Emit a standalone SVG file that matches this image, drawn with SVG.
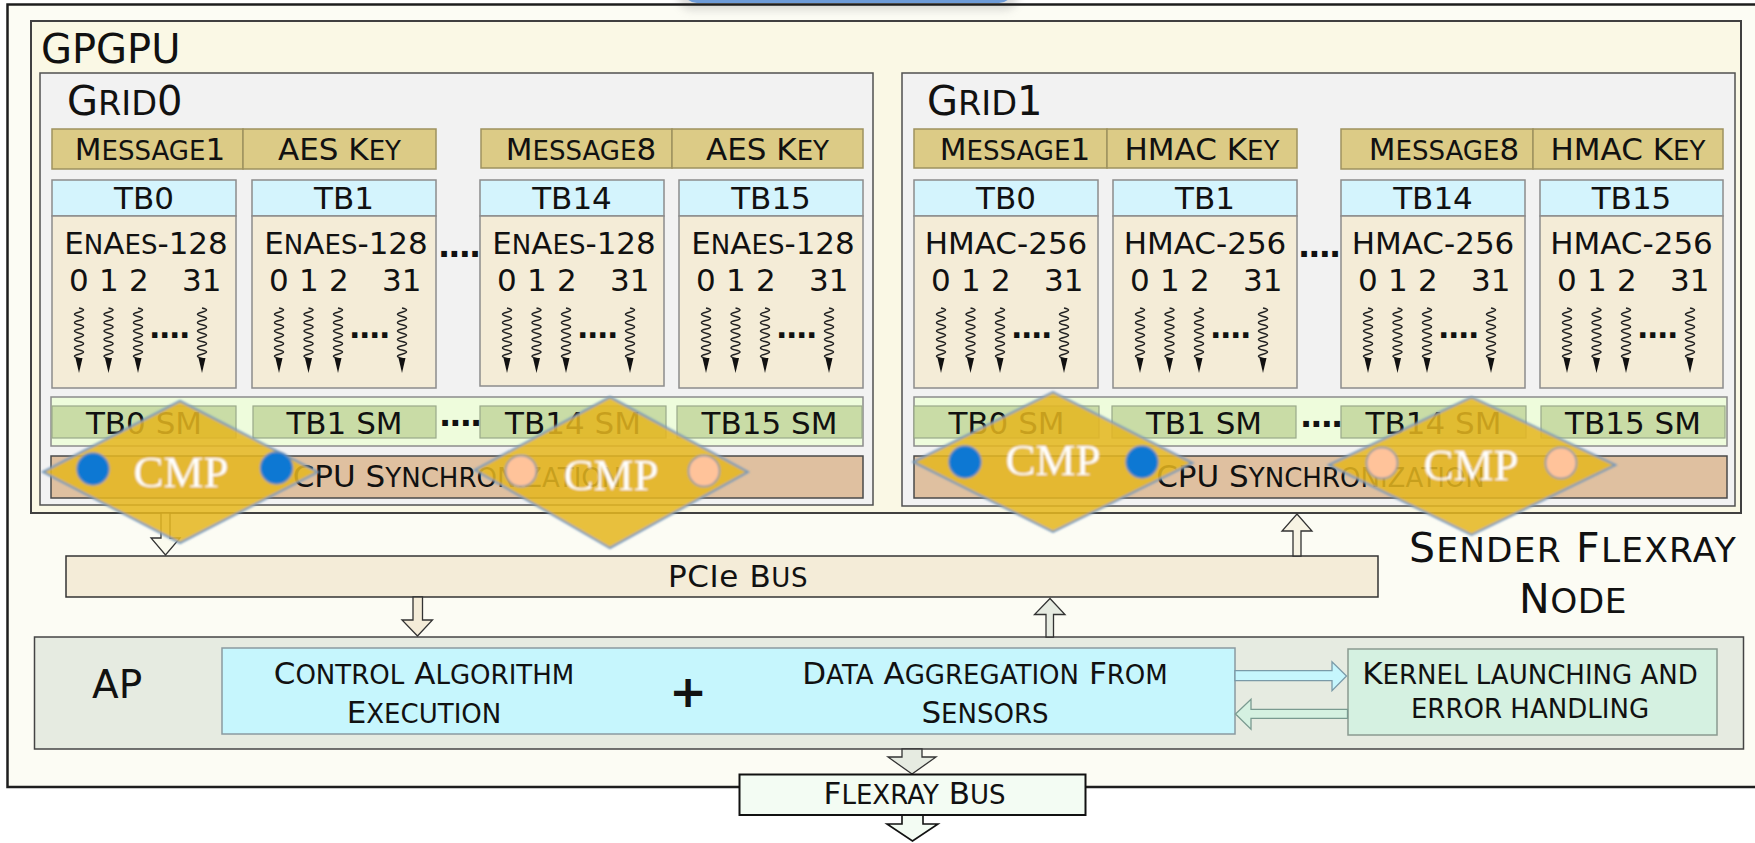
<svg xmlns="http://www.w3.org/2000/svg" xmlns:xlink="http://www.w3.org/1999/xlink" width="1755" height="843" viewBox="0 0 1755 843">
<style>
text{font-family:"DejaVu Sans",Verdana,sans-serif;fill:#111}
.m{text-anchor:middle}
.s{font-size:0.84em}
.f31{font-size:31px}
.f40{font-size:40px}
.ap{font-size:31px}
.msg{fill:#dccb86;stroke:#9e925f;stroke-width:1.5}
.tbh{fill:#d4f4fd;stroke:#8c8c8c;stroke-width:1.5}
.tbb{fill:#f4ecd7;stroke:#8c8c8c;stroke-width:1.5}
.smrow{fill:#eefcdc;stroke:#8c8c8c;stroke-width:1.5}
.sm{fill:#c9dca6;stroke:#9aa88a;stroke-width:1.2}
.sync{fill:#dfc0a0;stroke:#4a4a4a;stroke-width:1.5}
.grid{fill:#f2f2f2;stroke:#505050;stroke-width:1.5}
.cmp{fill:#e5b71c;fill-opacity:0.86;stroke:#7799bb;stroke-width:2}
.cmpt{font-family:"Liberation Serif","Times New Roman",serif;font-size:45px;fill:#fff}
.blue{fill:#0b78d3;stroke:#6d8fb0;stroke-width:1.5}
.peach{fill:#ffc39a;stroke:#7e94aa;stroke-width:1.5}
.dots{font-weight:bold;font-size:30px;letter-spacing:-1.4px}
.dotsb{font-weight:bold;font-size:32px;letter-spacing:-1.8px}
.arr{stroke:#333;stroke-width:1.3}
</style>
<defs>
  <!-- one thread of a thread block: wavy line ending in an arrowhead -->
  <g id="thr">
    <path d="M0,0 q9,2.1 0,4.2 q-9,2.1 0,4.2 q9,2.1 0,4.2 q-9,2.1 0,4.2 q9,2.1 0,4.2 q-9,2.1 0,4.2 q9,2.1 0,4.2 q-9,2.1 0,4.2 q9,2.1 0,4.2 q-9,2.1 0,4.2 q9,2.1 0,4.2 q-9,2.1 0,4.2 l0,2" fill="none" stroke="#222" stroke-width="1.5"/>
    <polygon points="-3.5,50 3.5,50 0,65" fill="#111"/>
  </g>
  <filter id="soft" x="-10%" y="-10%" width="120%" height="120%">
    <feGaussianBlur stdDeviation="0.8"/>
  </filter>
  <filter id="haze" x="-20%" y="-50%" width="140%" height="200%">
    <feGaussianBlur stdDeviation="4"/>
  </filter>
</defs>

<!-- sender node frame -->
<g id="sender-node">
  <rect x="7.5" y="4.5" width="1760" height="782.5" fill="#fcfcf4"/>
  <rect x="678" y="-30" width="340" height="40" rx="14" fill="#9a9a9a" opacity="0.35" filter="url(#haze)"/>
  <rect x="683" y="-30" width="330" height="33" rx="14" fill="#6d9bd8"/>
  <rect x="7.5" y="4.5" width="1760" height="782.5" fill="none" stroke="#1e1e1e" stroke-width="2.5"/>
  <text x="1573" y="562" class="m" style="font-size:41px;letter-spacing:1.2px">S<tspan class="s">ENDER</tspan> F<tspan class="s">LEXRAY</tspan></text>
  <text x="1573" y="613" class="m" style="font-size:41px;letter-spacing:0.5px">N<tspan class="s">ODE</tspan></text>
</g>

<g id="gpgpu">
  <rect x="31" y="21" width="1710" height="492" fill="#faf8e5" stroke="#404040" stroke-width="2"/>
  <text x="41" y="63" class="f40">GPGPU</text>
</g>

<!-- Grid 0 : AES encryption -->
<g id="grid0">
  <rect class="grid" x="40" y="73" width="833" height="432"/>
  <text x="67" y="115" class="f40">G<tspan class="s">RID</tspan>0</text>
</g>
<g id="g0-msg1">
  <rect class="msg" x="52" y="129" width="191" height="40"/>
  <rect class="msg" x="243" y="129" width="193" height="40"/>
  <text class="f31 m" x="150" y="160">M<tspan class="s">ESSAGE</tspan>1</text>
  <text class="f31 m" x="339.5" y="160">AES K<tspan class="s">EY</tspan></text>
</g>
<g id="g0-msg8">
  <rect class="msg" x="481" y="129" width="191" height="39"/>
  <rect class="msg" x="672" y="129" width="191" height="39"/>
  <text class="f31 m" x="581" y="160">M<tspan class="s">ESSAGE</tspan>8</text>
  <text class="f31 m" x="767.5" y="160">AES K<tspan class="s">EY</tspan></text>
</g>
<text class="dotsb" x="438" y="257">....</text>
<g id="g0-tb0">
  <rect class="tbh" x="52" y="180" width="184" height="36"/>
  <rect class="tbb" x="52" y="216" width="184" height="172"/>
  <text class="f31 m" x="144" y="209">TB0</text>
  <text class="f31 m" x="146" y="254">E<tspan class="s">N</tspan>A<tspan class="s">ES</tspan>-128</text>
  <text class="f31" y="291"><tspan x="69">0</tspan> <tspan x="99">1</tspan> <tspan x="129">2</tspan> <tspan x="182">31</tspan></text>
  <use href="#thr" x="79" y="308"/><use href="#thr" x="108.5" y="308"/><use href="#thr" x="138" y="308"/><use href="#thr" x="202" y="308"/>
  <text class="dots" x="149" y="338">....</text>
</g>
<g id="g0-tb1">
  <rect class="tbh" x="252" y="180" width="184" height="36"/>
  <rect class="tbb" x="252" y="216" width="184" height="172"/>
  <text class="f31 m" x="344" y="209">TB1</text>
  <text class="f31 m" x="346" y="254">E<tspan class="s">N</tspan>A<tspan class="s">ES</tspan>-128</text>
  <text class="f31" y="291"><tspan x="269">0</tspan> <tspan x="299">1</tspan> <tspan x="329">2</tspan> <tspan x="382">31</tspan></text>
  <use href="#thr" x="279" y="308"/><use href="#thr" x="308.5" y="308"/><use href="#thr" x="338" y="308"/><use href="#thr" x="402" y="308"/>
  <text class="dots" x="349" y="338">....</text>
</g>
<g id="g0-tb14">
  <rect class="tbh" x="480" y="180" width="184" height="36"/>
  <rect class="tbb" x="480" y="216" width="184" height="170"/>
  <text class="f31 m" x="572" y="209">TB14</text>
  <text class="f31 m" x="574" y="254">E<tspan class="s">N</tspan>A<tspan class="s">ES</tspan>-128</text>
  <text class="f31" y="291"><tspan x="497">0</tspan> <tspan x="527">1</tspan> <tspan x="557">2</tspan> <tspan x="610">31</tspan></text>
  <use href="#thr" x="507" y="308"/><use href="#thr" x="536.5" y="308"/><use href="#thr" x="566" y="308"/><use href="#thr" x="630" y="308"/>
  <text class="dots" x="577" y="338">....</text>
</g>
<g id="g0-tb15">
  <rect class="tbh" x="679" y="180" width="184" height="36"/>
  <rect class="tbb" x="679" y="216" width="184" height="172"/>
  <text class="f31 m" x="771" y="209">TB15</text>
  <text class="f31 m" x="773" y="254">E<tspan class="s">N</tspan>A<tspan class="s">ES</tspan>-128</text>
  <text class="f31" y="291"><tspan x="696">0</tspan> <tspan x="726">1</tspan> <tspan x="756">2</tspan> <tspan x="809">31</tspan></text>
  <use href="#thr" x="706" y="308"/><use href="#thr" x="735.5" y="308"/><use href="#thr" x="765" y="308"/><use href="#thr" x="829" y="308"/>
  <text class="dots" x="776" y="338">....</text>
</g>
<g id="g0-sm">
  <rect class="smrow" x="51" y="397" width="812" height="49"/>
  <rect class="sm" x="52" y="406" width="184" height="32"/>
  <rect class="sm" x="253" y="406" width="183" height="32"/>
  <rect class="sm" x="480" y="406" width="186" height="32"/>
  <rect class="sm" x="677" y="406" width="185" height="32"/>
  <text class="f31 m" x="144" y="434">TB0 SM</text>
  <text class="f31 m" x="344.5" y="434">TB1 SM</text>
  <text class="f31 m" x="573" y="434">TB14 SM</text>
  <text class="f31 m" x="769.5" y="434">TB15 SM</text>
  <text class="dotsb" x="439" y="426">....</text>
</g>
<g id="g0-sync">
  <rect class="sync" x="51" y="456" width="812" height="42"/>
  <text class="f31 m" x="457" y="487">CPU S<tspan class="s">YNCHRONIZATION</tspan></text>
</g>

<!-- Grid 1 : HMAC -->
<g id="grid1">
  <rect class="grid" x="902" y="73" width="833" height="433"/>
  <text x="927" y="115" class="f40">G<tspan class="s">RID</tspan>1</text>
</g>
<g id="g1-msg1">
  <rect class="msg" x="914" y="129" width="193" height="39"/>
  <rect class="msg" x="1107" y="129" width="190" height="39"/>
  <text class="f31 m" x="1015" y="160">M<tspan class="s">ESSAGE</tspan>1</text>
  <text class="f31 m" x="1202" y="160">HMAC K<tspan class="s">EY</tspan></text>
</g>
<g id="g1-msg8">
  <rect class="msg" x="1341" y="129" width="192" height="40"/>
  <rect class="msg" x="1533" y="129" width="190" height="40"/>
  <text class="f31 m" x="1444" y="160">M<tspan class="s">ESSAGE</tspan>8</text>
  <text class="f31 m" x="1628" y="160">HMAC K<tspan class="s">EY</tspan></text>
</g>
<text class="dotsb" x="1298" y="257">....</text>
<g id="g1-tb0">
  <rect class="tbh" x="914" y="180" width="184" height="36"/>
  <rect class="tbb" x="914" y="216" width="184" height="172"/>
  <text class="f31 m" x="1006" y="209">TB0</text>
  <text class="f31 m" x="1006" y="254">HMAC-256</text>
  <text class="f31" y="291"><tspan x="931">0</tspan> <tspan x="961">1</tspan> <tspan x="991">2</tspan> <tspan x="1044">31</tspan></text>
  <use href="#thr" x="941" y="308"/><use href="#thr" x="970.5" y="308"/><use href="#thr" x="1000" y="308"/><use href="#thr" x="1064" y="308"/>
  <text class="dots" x="1011" y="338">....</text>
</g>
<g id="g1-tb1">
  <rect class="tbh" x="1113" y="180" width="184" height="36"/>
  <rect class="tbb" x="1113" y="216" width="184" height="172"/>
  <text class="f31 m" x="1205" y="209">TB1</text>
  <text class="f31 m" x="1205" y="254">HMAC-256</text>
  <text class="f31" y="291"><tspan x="1130">0</tspan> <tspan x="1160">1</tspan> <tspan x="1190">2</tspan> <tspan x="1243">31</tspan></text>
  <use href="#thr" x="1140" y="308"/><use href="#thr" x="1169.5" y="308"/><use href="#thr" x="1199" y="308"/><use href="#thr" x="1263" y="308"/>
  <text class="dots" x="1210" y="338">....</text>
</g>
<g id="g1-tb14">
  <rect class="tbh" x="1341" y="180" width="184" height="36"/>
  <rect class="tbb" x="1341" y="216" width="184" height="172"/>
  <text class="f31 m" x="1433" y="209">TB14</text>
  <text class="f31 m" x="1433" y="254">HMAC-256</text>
  <text class="f31" y="291"><tspan x="1358">0</tspan> <tspan x="1388">1</tspan> <tspan x="1418">2</tspan> <tspan x="1471">31</tspan></text>
  <use href="#thr" x="1368" y="308"/><use href="#thr" x="1397.5" y="308"/><use href="#thr" x="1427" y="308"/><use href="#thr" x="1491" y="308"/>
  <text class="dots" x="1438" y="338">....</text>
</g>
<g id="g1-tb15">
  <rect class="tbh" x="1540" y="180" width="183" height="36"/>
  <rect class="tbb" x="1540" y="216" width="183" height="172"/>
  <text class="f31 m" x="1631.5" y="209">TB15</text>
  <text class="f31 m" x="1631.5" y="254">HMAC-256</text>
  <text class="f31" y="291"><tspan x="1557">0</tspan> <tspan x="1587">1</tspan> <tspan x="1617">2</tspan> <tspan x="1670">31</tspan></text>
  <use href="#thr" x="1567" y="308"/><use href="#thr" x="1596.5" y="308"/><use href="#thr" x="1626" y="308"/><use href="#thr" x="1690" y="308"/>
  <text class="dots" x="1637" y="338">....</text>
</g>
<g id="g1-sm">
  <rect class="smrow" x="914" y="397" width="813" height="49"/>
  <rect class="sm" x="914" y="406" width="185" height="32"/>
  <rect class="sm" x="1112" y="406" width="184" height="32"/>
  <rect class="sm" x="1341" y="406" width="185" height="32"/>
  <rect class="sm" x="1541" y="406" width="184" height="32"/>
  <text class="f31 m" x="1006.5" y="434">TB0 SM</text>
  <text class="f31 m" x="1204" y="434">TB1 SM</text>
  <text class="f31 m" x="1433.5" y="434">TB14 SM</text>
  <text class="f31 m" x="1633" y="434">TB15 SM</text>
  <text class="dotsb" x="1300" y="427">....</text>
</g>
<g id="g1-sync">
  <rect class="sync" x="914" y="456" width="813" height="42"/>
  <text class="f31 m" x="1320.5" y="487">CPU S<tspan class="s">YNCHRONIZATION</tspan></text>
</g>

<!-- buses and application processor -->
<g id="pcie-bus">
  <rect x="66" y="556" width="1312" height="41" fill="#f4ecd8" stroke="#333" stroke-width="1.5"/>
  <text class="ap m" x="738" y="587" style="letter-spacing:0.6px">PCIe B<tspan class="s">US</tspan></text>
</g>
<g id="ap">
  <rect x="34.5" y="637" width="1709" height="112" fill="#e6ebe1" stroke="#444" stroke-width="1.5"/>
  <text x="92" y="698" style="font-size:39px">AP</text>
</g>
<g id="ap-tasks">
  <rect x="222" y="648" width="1013" height="86" fill="#c6f6fd" stroke="#8a9aa0" stroke-width="1.5"/>
  <text class="ap m" x="424" y="684">C<tspan class="s">ONTROL</tspan> A<tspan class="s">LGORITHM</tspan></text>
  <text class="ap m" x="424" y="723">E<tspan class="s">XECUTION</tspan></text>
  <text x="688" y="707" class="m" style="font-size:45px;font-weight:bold">+</text>
  <text class="ap m" x="985" y="684">D<tspan class="s">ATA</tspan> A<tspan class="s">GGREGATION</tspan> F<tspan class="s">ROM</tspan></text>
  <text class="ap m" x="985" y="723">S<tspan class="s">ENSORS</tspan></text>
</g>
<g id="kernel">
  <rect x="1348" y="649" width="369" height="86" fill="#d5f1e1" stroke="#8a9a90" stroke-width="1.5"/>
  <text class="ap m" x="1530" y="684">K<tspan class="s">ERNEL LAUNCHING AND</tspan></text>
  <text class="ap m" x="1530" y="718"><tspan class="s">ERROR HANDLING</tspan></text>
</g>

<!-- connectors: hollow block arrows -->
<g id="connectors">
  <polygon class="arr" fill="#fbfbee" points="161,513 170,513 170,538 180,538 165.5,555 151,538 161,538"/>
  <polygon class="arr" fill="#f7f3e3" points="1293,556 1293,531 1282,531 1297,514 1312,531 1301,531 1301,556"/>
  <polygon class="arr" fill="#f4ecd8" points="413,597 422.5,597 422.5,620 432.5,620 417.5,636 402,620 413,620"/>
  <polygon class="arr" fill="#e6ebe1" points="1046,637 1046,614.5 1034.5,614.5 1050,598.5 1065,614.5 1053.5,614.5 1053.5,637"/>
  <polygon fill="#c6f6fd" stroke="#7a9aa8" stroke-width="1.3" points="1235,670.7 1332,670.7 1332,661.7 1346.5,676 1332,690.7 1332,680.7 1235,680.7"/>
  <polygon fill="#d5f1e1" stroke="#7a9a90" stroke-width="1.3" points="1347.5,709.3 1251,709.3 1251,699.3 1235.5,714 1251,729.3 1251,718.3 1347.5,718.3"/>
  <polygon class="arr" fill="#e6ebe1" points="902,749 922,749 922,757 936,757 912,774 888,757 902,757"/>
  <polygon fill="#f3fcf3" stroke="#111" stroke-width="1.6" points="902,815 923,815 923,824 938,824 912.5,841 887,824 902,824"/>
</g>

<g id="flexray-bus">
  <rect x="739.5" y="774.5" width="346" height="40.5" fill="#f3fcf3" stroke="#111" stroke-width="2"/>
  <text class="ap m" x="914.6" y="804">F<tspan class="s">LEXRAY</tspan> B<tspan class="s">US</tspan></text>
</g>

<!-- comparison points overlaid on the synchronisation rows -->
<g id="cmp-g0-a" filter="url(#soft)">
  <polygon class="cmp" points="43,472 180,401 318,472 180,543"/>
  <circle class="blue" cx="93" cy="469" r="16"/>
  <circle class="blue" cx="276.5" cy="468" r="16"/>
  <text class="cmpt m" x="181" y="487">CMP</text>
</g>
<g id="cmp-g0-b" filter="url(#soft)">
  <polygon class="cmp" points="475,470 610,397 748,472 610,548"/>
  <circle class="peach" cx="521" cy="471" r="15.5"/>
  <circle class="peach" cx="704" cy="471" r="15.5"/>
  <text class="cmpt m" x="611" y="490">CMP</text>
</g>
<g id="cmp-g1-a" filter="url(#soft)">
  <polygon class="cmp" points="913.5,462 1053,392 1192.5,463 1053,532"/>
  <circle class="blue" cx="965" cy="462" r="16"/>
  <circle class="blue" cx="1142" cy="462" r="16"/>
  <text class="cmpt m" x="1053" y="475">CMP</text>
</g>
<g id="cmp-g1-b" filter="url(#soft)">
  <polygon class="cmp" points="1329,465 1471.5,397 1615.5,465 1471.5,535"/>
  <circle class="peach" cx="1382" cy="463" r="15.5"/>
  <circle class="peach" cx="1561" cy="463" r="15.5"/>
  <text class="cmpt m" x="1471" y="480">CMP</text>
</g>
</svg>
